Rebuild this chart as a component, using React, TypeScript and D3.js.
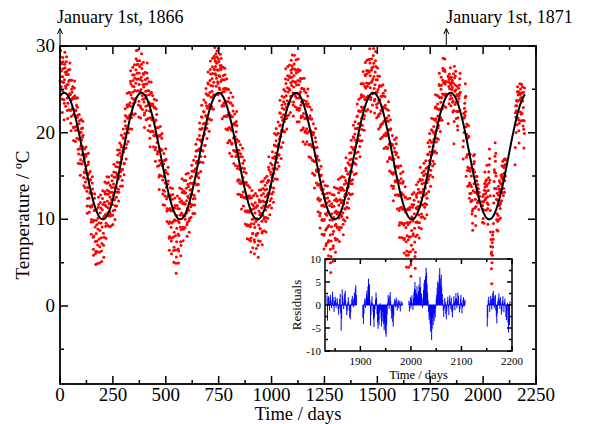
import React from 'react';
import * as d3 from 'd3';

// Fitted seasonal model (black curve)
const FIT_MEAN = 17.3;
const FIT_AMP = 7.3;
const FIT_PHASE = 20;
const FIT_PERIOD = 365.25;
const FIT_END = 2198;

// Daily residuals (tenths of a degree) = observation - fit, per stretch of data
const SEG_START = [0, 365, 730, 1096, 1461, 1834, 1905, 1996, 2151];

const RES_1866 = [
  18, 32, 45, 52, 38, 21, 9, 27, 35, 14, -6, -22, 3, 19, 41, 36, 28, 12, -8, -31, -12, 15, 33, 47, 29, 24, 8, -15, 6, 22,
  37, 43, 26, 11, -4, -18, -27, -9, 13, 25, 31, 18, 2, -14, 5, 21, 34, 42, 23, 7, -11, -25, -33, -16, 4, 17, 28, 15, -3, 9,
  24, 12, -7, -21, -35, -19, 2, 16, 29, 38, 22, 6, -12, -28, -14, 3, 11, 26, 19, -5, -17, 8, 21, 33, 14, -2, -23, -38, -26, -8,
  11, 23, 17, 4, -13, -29, -41, -22, -5, 12, 28, 19, 7, -9, -18, 3, 15, 27, 36, 21, 8, -6, -24, -32, -15, 2, 14, 9, -11, -27,
  -19, -3, 13, 25, 18, 6, -8, -21, -37, -44, -26, -12, 4, 17, 31, 22, 10, -5, -16, -31, -23, -7, 9, 20, 12, -2, -18, -34, -47, -29,
  -13, 3, 16, 24, 11, -6, -25, -42, -55, -61, -38, -19, -7, 8, 14, -4, -23, -39, -52, -64, -48, -27, -11, 2, -15, -33, -45, -58, -36, -17,
  -4, 9, 21, 13, -8, -26, -41, -53, -34, -15, 6, 18, 27, 12, -5, -22, -37, -49, -28, -9, 11, 24, 33, 17, 1, -16, -30, -44, -21, 3,
  19, 31, 42, 28, 15, 4, -10, -24, -7, 12, 26, 38, 45, 29, 16, 2, -13, 7, 22, 35, 41, 24, 9, -6, -19, -3, 14, 27, 18, 5,
  -9, -23, -12, 6, 19, 32, 25, 11, -4, -17, -29, -14, 3, 15, 28, 36, 20, 7, -8, -21, -33, -18, 1, 13, 24, 16, -2, -15, -26, -11,
  8, 21, 34, 27, 12, -3, -16, -31, -22, -6, 10, 23, 30, 17, 4, -12, -25, -9, 7, 19, 29, 14, -1, -14, -28, -36, -18, 2, 16, 25,
  13, -4, -19, -33, -21, -5, 11, 24, 37, 28, 15, 1, -13, -27, -11, 6, 18, 31, 43, 26, 12, -2, -17, -8, 9, 22, 35, 19, 4, -10,
  5, 18, 29, 41, 52, 36, 22, 8, -6, -20, -3, 14, 27, 39, 47, 31, 17, 3, -11, 6, 20, 33, 44, 28, 13, -1, -15, 2, 19, 34, 46, 55, 38, 21, 7,
];

const RES_1867 = [
  27, 41, 53, 36, 19, 5, -12, -26, -8, 11, 24, 38, 31, 16, 2, -15, -29, -17, 4, 18, 33, 45, 28, 14, -3, -19, -7, 10, 23, 36,
  22, 8, -9, -24, -38, -21, -4, 13, 27, 19, 6, -11, -26, -15, 3, 17, 30, 42, 25, 11, -5, -20, -33, -18, 1, 15, 26, 12, -6, -22,
  -36, -45, -27, -10, 7, 20, 34, 23, 9, -7, -19, -4, 12, 25, 16, 1, -14, -30, -16, 2, 18, 29, 21, 5, -10, -25, -37, -20, -3, 14,
  28, 39, 24, 10, -6, -18, -31, -13, 5, 17, 9, -8, -23, -35, -48, -30, -12, 3, 19, 31, 22, 7, -9, -21, -5, 11, 26, 33, 15, -2,
  -17, -32, -43, -25, -8, 8, 21, 14, -3, -19, -34, -22, -6, 10, 23, 37, 26, 12, -4, -16, -29, -40, -24, -9, 6, 19, 28, 13, -2, -18,
  -33, -49, -62, -45, -27, -11, 4, 15, 7, -10, -28, -43, -57, -38, -20, -5, 9, 22, 16, 1, -14, -31, -46, -59, -41, -23, -8, 6, 18, 10,
  -7, -24, -40, -55, -66, -47, -29, -13, 2, 14, 25, 11, -3, -18, -35, -51, -37, -19, -4, 12, 24, 36, 20, 5, -9, -26, -42, -30, -12, 7,
  21, 34, 46, 30, 17, 3, -11, -27, -14, 2, 16, 29, 41, 26, 13, -1, -15, -6, 11, 23, 37, 44, 27, 12, -3, -17, -31, -16, 0, 13,
  26, 38, 22, 8, -7, -20, -34, -19, -2, 12, 25, 18, 4, -11, -24, -10, 6, 20, 32, 24, 9, -5, -18, -29, -13, 3, 17, 28, 14, -1,
  -16, -28, -39, -23, -6, 9, 22, 35, 26, 11, -4, -17, -8, 8, 19, 31, 17, 2, -12, -26, -35, -21, -5, 10, 24, 37, 29, 15, 1, -13,
  -25, -9, 7, 20, 33, 45, 30, 16, 2, -12, -27, -15, 1, 14, 27, 39, 24, 10, -4, -18, -32, -20, -3, 12, 26, 41, 34, 19, 5, -9,
  -22, -6, 11, 25, 38, 50, 35, 21, 7, -8, -23, -10, 6, 19, 32, 44, 53, 37, 23, 9, -5, -19, -4, 13, 27, 40, 49, 31, 16, 2, -12, 4, 18, 33, 47,
];

const RES_1868 = [
  31, 44, 56, 40, 25, 33, 47, 38, 22, 9, 18, 35, 49, 42, 27, 13, -2, 11, 26, 39, 51, 36, 20, 6, -9, 4, 19, 32, 45, 29,
  14, 28, 41, 33, 17, 2, -13, -27, -11, 5, 19, 34, 25, 10, -6, -21, -8, 9, 23, 37, 30, 15, -1, -16, -30, -14, 3, 18, 31, 20,
  6, -10, -25, -39, -22, -5, 11, 26, 17, 1, -15, -29, -43, -28, -12, 4, 19, 32, 21, 7, -8, -23, -36, -20, -4, 13, 27, 38, 23, 9,
  -6, -19, -33, -17, 0, 15, 29, 20, 5, -11, -26, -14, 3, 17, 30, 43, 28, 13, -3, -18, -31, -45, -27, -10, 6, 21, 12, -5, -20, -35,
  -21, -4, 12, 27, 18, 2, -14, -28, -41, -24, -7, 10, 24, 35, 19, 4, -12, -27, -16, 1, 16, 30, 22, 7, -9, -24, -38, -22, -6, 11,
  25, 15, -1, -17, -32, -46, -29, -12, 5, 19, 8, -9, -25, -40, -23, -7, 10, 23, 14, -3, -20, -36, -48, -31, -14, 3, 17, 26, 11, -6,
  -22, -38, -21, -4, 12, 24, 9, -8, -26, -42, -28, -11, 6, 18, 29, 13, -3, -19, -34, -17, 1, 15, 27, 16, 0, -16, -30, -44, -25, -7,
  9, 22, 33, 19, 4, -12, -27, -13, 5, 18, 31, 40, 24, 9, -7, -21, -35, -20, -2, 14, 28, 36, 21, 6, -10, -24, -9, 8, 21, 34,
  25, 11, -5, -19, -32, -16, 1, 15, 29, 21, 6, -9, -23, -11, 4, 18, 32, 43, 27, 13, -2, -17, -29, -14, 2, 17, 26, 12, -4, -18,
  -30, -15, 3, 16, 30, 22, 8, -7, -21, -34, -19, -3, 13, 27, 39, 24, 10, -5, -18, -8, 9, 22, 35, 26, 12, -3, -17, -30, -12, 5,
  19, 31, 17, 3, -11, -25, -13, 4, 18, 32, 45, 29, 14, 0, -14, -28, -16, 2, 16, 29, 38, 23, 8, -6, -20, -7, 10, 24, 37, 27,
  12, -3, -16, -2, 14, 28, 41, 52, 34, 19, 5, -9, -22, -8, 9, 23, 36, 46, 30, 15, 1, -13, -1, 16, 30, 42, 27, 12, -2, -15, 3, 18, 32, 43, 28, 13,
];

const RES_1869 = [
  22, 35, 47, 31, 16, 2, -12, -25, -9, 8, 21, 34, 44, 28, 13, -1, -16, -4, 12, 26, 38, 23, 9, -6, -19, -33, -17, 0, 15, 28,
  40, 26, 11, -4, -18, -31, -15, 2, 17, 30, 21, 6, -9, -23, -37, -20, -3, 13, 25, 14, -2, -17, -31, -45, -28, -11, 5, 19, 32, 18,
  3, -12, -27, -40, -24, -8, 9, 23, 14, -1, -16, -30, -19, -2, 14, 27, 36, 20, 5, -10, -24, -37, -22, -5, 11, 25, 16, 0, -15, -29,
  -13, 4, 19, 31, 22, 7, -8, -22, -36, -20, -3, 12, 26, 17, 1, -14, -28, -42, -26, -9, 8, 21, 33, 19, 4, -11, -25, -10, 6, 20,
  11, -5, -20, -35, -48, -31, -14, 3, 16, 7, -10, -27, -43, -56, -38, -21, -6, 9, 21, 12, -4, -21, -37, -52, -34, -17, -2, 13, 5, -12,
  -29, -45, -60, -42, -24, -8, 7, 18, 4, -13, -31, -48, -63, -44, -26, -10, 5, 17, 26, 13, -3, -19, -36, -51, -33, -15, 0, 14, 24, 10,
  -6, -23, -39, -54, -65, -46, -28, -11, 4, 16, 27, 13, -2, -18, -34, -49, -31, -14, 2, 15, 28, 37, 22, 8, -7, -22, -38, -24, -6, 9,
  23, 35, 20, 5, -10, -25, -12, 6, 19, 32, 43, 27, 12, -3, -17, -31, -15, 1, 16, 29, 40, 25, 10, -5, -20, -8, 9, 24, 36, 21,
  7, -8, -22, -35, -18, -1, 14, 28, 19, 4, -11, -26, -13, 3, 18, 31, 42, 26, 11, -4, -19, -32, -16, 0, 15, 27, 13, -3, -18, -30,
  -14, 2, 17, 29, 20, 5, -10, -24, -9, 7, 21, 34, 25, 10, -6, -21, -34, -19, -2, 14, 27, 39, 23, 8, -8, -23, -11, 6, 20, 33,
  24, 9, -7, -21, -33, -17, 0, 15, 28, 41, 26, 11, -5, -19, -6, 11, 25, 37, 22, 7, -8, -22, -35, -18, -1, 14, 29, 44, 30, 15,
  1, -13, -27, -10, 7, 21, 35, 48, 33, 18, 4, -10, -24, -8, 10, 24, 37, 50, 34, 19, 5, -9, 6, 22, 36, 47, 31, 16, 2, -12, 3, 17, 31, 44, 29,
];

const RES_1870 = [
  15, 28, 42, 54, 37, 22, 8, -6, -20, -4, 13, 27, 40, 29, 14, 0, -14, -1, 16, 30, 43, 51, 34, 19, 5, -9, -23, -7, 10, 25,
  38, 49, 32, 17, 3, -11, -26, -14, 4, 19, 33, 24, 9, -6, -21, -35, -18, -1, 15, 28, 18, 2, -13, -28, -41, -24, -7, 10, 23, 12,
  -4, -19, -33, -16, 1, 17, 31, 22, 7, -9, -24, -38, -21, -4, 12, 26, 34, 18, 3, -12, -27, -13, 5, 20, 11, -6, -22, -36, -19, -2,
  14, 28, 39, 24, 9, -7, -22, -35, -18, -1, 16, 29, 20, 4, -12, -27, -41, -25, -8, 9, 22, 13, -3, -19, -34, -47, -29, -12, 5, 19,
  30, 17, 2, -14, -29, -13, 6, 21, 35, 43, 27, 12, -4, -18, -33, -16, 2, 18, 31, 22, 6, -10, -26, -42, -55, -37, -19, -3, 12, 24,
  34, 20, 5, -11, -28, -44, -27, -9, 8, 22, 36, 26, 11, -5, -22, -38, -53, -35, -17, -1, 14, 27, 16, -1, -18, -34, -49, -62, -43, -25,
  -9, 6, 19, 8, -10, -27, -44, -58, -40, -22, -6, 10, 23, 13, -4, -21, -38, -53, -66, -48, -30, -13, 3, 17, 29, 14, -2, -19, -35, -17,
  0, 16, 30, 21, 5, -12, -28, -45, -59, -41, -23, -7, 9, 24, 35, 20, 6, -9, -25, -11, 7, 22, 34, 25, 10, -6, -21, -34, -17, 1,
  17, 31, 44, 28, 13, -2, -17, -31, -15, 3, 18, 30, 21, 6, -10, -25, -12, 5, 20, 33, 23, 8, -7, -22, -36, -20, -3, 12, 26, 16,
  1, -15, -29, -42, -24, -7, 9, 23, 35, 20, 5, -11, -26, -10, 7, 22, 36, 27, 12, -3, -17, -31, -14, 2, 16, 29, 41, 26, 11, -4,
  -19, -33, -16, 0, 15, 29, 19, 3, -13, -28, -14, 4, 19, 32, 46, 31, 16, 1, -13, -27, -11, 6, 21, 35, 24, 9, -6, -20, -5, 12,
  26, 39, 51, 36, 21, 7, -7, -21, -6, 11, 25, 38, 28, 13, -1, -15, -2, 14, 29, 42, 53, 38, 23, 9, -5, 8, 22, 35, 47, 32, 17, 3, -11, 4, 18,
];

const RES_1871_A = [
  21, -34, 14, 19, 8, -12, 16, 22, 5, -7, 11, 29, 17, -3, -15, 9, 18, 12, -6, 4,
  15, 7, -10, -21, -8, 13, 24, -18, -56, -30, 34, 21, 6, -9, 14, 25, 31, 10, -4, -22,
  -13, 5, 17, 8, -11, -27, -31, -16, 3, 12, 20, 9, -5, 14, 27, 18, 36, 43, 22,
];

const RES_1871_B = [
  -28, -41, -19, 8, 15, -6, 12, 24, 31, 18, 40, 57, 26, 45, 11, -45, -22, 6, 19, 3,
  -14, -31, -48, -25, -9, 12, 27, 16, -20, -38, -52, -33, -44, -17, 4, -11, -29, -47, -36, -15,
  -26, -41, -55, -38, -49, -62, -69, -43, -21, 5, 22, 14, -8, 19, 28, 9, -13, -30, -19, -37,
  -47, -24, 7, 13, -5, 10, 16, -3, -12, 6, 11, -7, 4, 9, -14, 3, 8, -2, 5,
];

const RES_1871_C = [
  9, -14, 6, 17, -8, 12, 21, 4, -11, 15, 28, 36, 50, 33, 19, 26, 41, 22, 8, 30,
  44, 37, 61, 39, 18, 25, 12, -6, 17, 33, 48, 55, 42, 63, 81, 70, 45, 27, 10, -15,
  -32, -24, -41, -58, -39, -76, -52, -29, -44, -21, -35, -18, -27, -9, 14, 22, 38, 51, 29, 47,
  65, 80, 58, 44, 66, 39, 24, 11, -13, -26, -8, 15, 6, -19, -31, -14, 9, 18, -5, -22,
  12, 21, 7, -9, 16, -15, -27, -11, 4, 19, 8, -12, 13, 26, 15, -7, 10, 27, 20, 3,
  -16, -9, 14, 22, 5, -18, -6, 11, 17, -4, 8, 12,
];

const RES_1871_D = [
  -47, -28, 11, 18, 4, -15, 9, 20, 13, -10, 16, 26, 31, 14, -7, 19, 22, -12, -25, -40,
  -18, 8, 15, 25, 12, -9, 17, 6, -21, -14, 10, 19, 3, -16, 7, 14, -3, -26, -33, -12,
  5, -38, -60, -29, -44, 8,
];

const SEGMENTS = [RES_1866, RES_1867, RES_1868, RES_1869, RES_1870, RES_1871_A, RES_1871_B, RES_1871_C, RES_1871_D];

const X_TICKS = [0, 250, 500, 750, 1000, 1250, 1500, 1750, 2000, 2250];
const Y_TICKS = [0, 10, 20, 30];
const INSET_X_TICKS = [1900, 2000, 2100, 2200];
const INSET_Y_TICKS = [-10, -5, 0, 5, 10];
const MARKER_DAYS = [0, 1826];
const MARKER_LABELS = ['January 1st, 1866', 'January 1st, 1871'];

const FONT = '"Liberation Serif", "Times New Roman", serif';

const fit = (d: number) => FIT_MEAN + FIT_AMP * Math.cos((2 * Math.PI * (d - FIT_PHASE)) / FIT_PERIOD);

export default function App() {
  const W = 592, H = 424;
  const x = d3.scaleLinear().domain([0, 2250]).range([60, 536]);
  const y = d3.scaleLinear().domain([-9, 30]).range([384, 46]);
  const ix = d3.scaleLinear().domain([1830, 2200]).range([325, 512]);
  const iy = d3.scaleLinear().domain([-10, 10]).range([351, 259]);

  const segs = SEGMENTS.map((seg, i) =>
    seg.map((r, j) => {
      const day = SEG_START[i] + j;
      return { day, res: r / 10, temp: fit(day) + r / 10 };
    })
  );
  const obs = segs.flat();
  const insetSegs = segs.filter((s) => s[0].day >= 1830);

  const fitDays = d3.range(0, FIT_END + 1, 1);
  const fitLine = d3.line<number>().x((d) => x(d)).y((d) => y(fit(d)))(fitDays) || '';

  const [x0, x1] = x.range();
  const [yb, yt] = y.range();
  const [ix0, ix1] = ix.range();
  const [iyb, iyt] = iy.range();

  const mainMinorX = d3.range(125, 2250, 250);
  const mainMinorY = [-5, 5, 15, 25];
  const insetMinorX = d3.range(1850, 2200, 100);
  const insetMinorY = [-7.5, -2.5, 2.5, 7.5];

  const tickPaths: string[] = [];
  const addX = (sx: (v: number) => number, vals: number[], b: number, t: number, len: number) =>
    vals.forEach((v) => {
      tickPaths.push(`M${sx(v)},${b}V${b - len}`);
      tickPaths.push(`M${sx(v)},${t}V${t + len}`);
    });
  const addY = (sy: (v: number) => number, vals: number[], l: number, r: number, len: number) =>
    vals.forEach((v) => {
      tickPaths.push(`M${l},${sy(v)}H${l + len}`);
      tickPaths.push(`M${r},${sy(v)}H${r - len}`);
    });
  addX(x, X_TICKS, yb, yt, 8);
  addX(x, mainMinorX, yb, yt, 4);
  addY(y, Y_TICKS, x0, x1, 8);
  addY(y, mainMinorY, x0, x1, 4);
  addX(ix, INSET_X_TICKS, iyb, iyt, 5);
  addX(ix, insetMinorX, iyb, iyt, 3);
  addY(iy, INSET_Y_TICKS, ix0, ix1, 5);
  addY(iy, insetMinorY, ix0, ix1, 3);

  return (
    <svg width={W} height={H} style={{ position: 'absolute', left: 0, top: 0, background: '#fff' }} fontFamily={FONT}>
      <rect x={0} y={0} width={W} height={H} fill="#fff" />

      {/* inset residuals */}
      <g>
        {insetSegs.map((s, k) => (
          <g key={k}>
            {s.map((p) => (
              <line key={p.day} x1={ix(p.day)} x2={ix(p.day)} y1={iy(0)} y2={iy(p.res)} stroke="#0000ff" strokeWidth={1} />
            ))}
            <line x1={ix(s[0].day)} x2={ix(s[s.length - 1].day)} y1={iy(0)} y2={iy(0)} stroke="#0000ff" strokeWidth={1} />
          </g>
        ))}
      </g>

      {/* observations */}
      <g fill="#ff0000">
        {obs.map((p) => (
          <circle key={p.day} cx={x(p.day)} cy={y(p.temp)} r={1.5} />
        ))}
      </g>

      {/* fit */}
      <path d={fitLine} fill="none" stroke="#000" strokeWidth={2} />

      {/* frames & ticks */}
      <rect x={x0} y={yt} width={x1 - x0} height={yb - yt} fill="none" stroke="#000" strokeWidth={1.8} />
      <rect x={ix0} y={iyt} width={ix1 - ix0} height={iyb - iyt} fill="none" stroke="#000" strokeWidth={1.5} />
      <path d={tickPaths.join('')} stroke="#000" strokeWidth={1.5} fill="none" />

      {/* main tick labels */}
      {X_TICKS.map((v) => (
        <text key={v} x={x(v)} y={401} fontSize={19} textAnchor="middle" fill="#000">{v}</text>
      ))}
      {Y_TICKS.map((v) => (
        <text key={v} x={x0 - 5} y={y(v) + 6} fontSize={19} textAnchor="end" fill="#000">{v}</text>
      ))}
      <text x={(x0 + x1) / 2} y={419.5} fontSize={18.5} textAnchor="middle" fill="#000">Time / days</text>
      <text transform={`translate(29,${(yt + yb) / 2}) rotate(-90)`} fontSize={19} textAnchor="middle" fill="#000">Temperature / ºC</text>

      {/* inset labels */}
      {INSET_X_TICKS.map((v) => (
        <text key={v} x={ix(v)} y={364.5} fontSize={11} textAnchor="middle" fill="#000">{v}</text>
      ))}
      {INSET_Y_TICKS.map((v) => (
        <text key={v} x={ix0 - 4} y={iy(v) + 4} fontSize={11} textAnchor="end" fill="#000">{v}</text>
      ))}
      <text x={(ix0 + ix1) / 2} y={378.5} fontSize={12.5} textAnchor="middle" fill="#000">Time / days</text>
      <text transform={`translate(301,${iy(0)}) rotate(-90)`} fontSize={13} textAnchor="middle" fill="#000">Residuals</text>

      {/* date markers */}
      {MARKER_DAYS.map((d, i) => (
        <g key={d}>
          <path d={`M${x(d)},${yt - 1}V${29}`} stroke="#000" strokeWidth={1} />
          <path d={`M${x(d) - 2.5},${34}L${x(d)},${28.5}L${x(d) + 2.5},${34}`} stroke="#000" strokeWidth={1} fill="none" />
          <text x={x(d) - (i === 0 ? 3 : 0)} y={23} fontSize={18} fill="#000">{MARKER_LABELS[i]}</text>
        </g>
      ))}
    </svg>
  );
}
